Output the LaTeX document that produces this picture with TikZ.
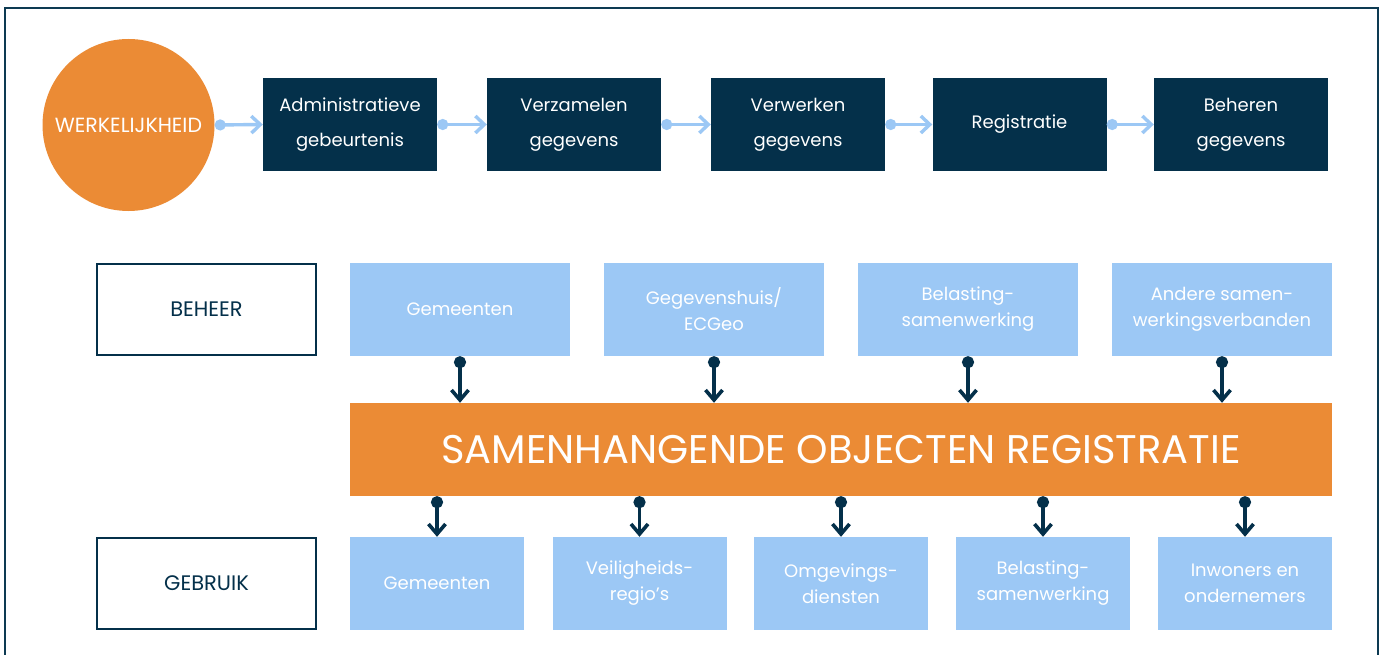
\documentclass[tikz,border=0pt]{standalone}
\usepackage{fontspec}
\setmainfont{Poppins}
\usetikzlibrary{arrows.meta}
\definecolor{navy}{HTML}{04304A}
\definecolor{frame}{HTML}{0D3A52}
\definecolor{orng}{HTML}{EB8B35}
\definecolor{lblue}{HTML}{9CC8F5}
\tikzset{
  dbox/.style={fill=navy, text=white, minimum width=174pt, minimum height=93pt, inner sep=0pt, align=center, font=\fontsize{18}{35}\selectfont},
  obox/.style={draw=navy, line width=2.2pt, fill=white, text=navy, minimum width=219pt, minimum height=91pt, inner sep=0pt, font=\fontsize{21}{24}\selectfont},
  bbox/.style={fill=lblue, text=white, minimum width=220pt, minimum height=93pt, inner sep=0pt, align=center, font=\fontsize{18}{26}\selectfont},
  gbox/.style={fill=lblue, text=white, minimum width=174pt, minimum height=93pt, inner sep=0pt, align=center, font=\fontsize{18}{26}\selectfont},
  flow/.style={draw=lblue, line width=3.4pt, {Circle[length=11pt,width=11pt]}-{Straight Barb[length=9pt,width=17pt,line width=3.4pt]}},
  down/.style={draw=navy, line width=3.6pt, {Circle[length=12pt,width=12pt]}-{Straight Barb[length=10pt,width=17pt,line width=3.6pt]}},
}
\begin{document}
\begin{tikzpicture}[x=1pt,y=-1pt]
\useasboundingbox (0,0) rectangle (1380,655);
\fill[white] (0,0) rectangle (1380,655);
\draw[frame, line width=2.5pt] (5,670) -- (5,8) -- (1378,8) -- (1378,670);
% top row
\node[circle, fill=orng, minimum size=172pt, inner sep=0pt, text=white, font=\fontsize{20.5}{24}\selectfont] (wk) at (128.5,125) {WERKELIJKHEID};
\node[dbox] (a1) at (350,124.5) {Administratieve\\gebeurtenis};
\node[dbox] (a2) at (574,124.5) {Verzamelen\\gegevens};
\node[dbox] (a3) at (798,124.5) {Verwerken\\gegevens};
\node[dbox] (a4) at (1019.5,124.5) {Registratie};
\node[dbox] (a5) at (1241,124.5) {Beheren\\gegevens};
\draw[flow] (wk.east) -- (a1.west);
\draw[flow] (a1.east) -- (a2.west);
\draw[flow] (a2.east) -- (a3.west);
\draw[flow] (a3.east) -- (a4.west);
\draw[flow] (a4.east) -- (a5.west);
% beheer row
\node[obox] (beh) at (206.5,309.5) {BEHEER};
\node[bbox] (b1) at (460,309.5) {Gemeenten};
\node[bbox] (b2) at (714,309.5) {Gegevenshuis/\\ECGeo};
\node[bbox] (b3) at (968,309.5) {Belasting-\\samenwerking};
\node[bbox] (b4) at (1222,309.5) {Andere samen-\\werkingsverbanden};
% bar
\node[fill=orng, text=white, minimum width=982pt, minimum height=93pt, inner sep=0pt, font=\fontsize{40}{44}\selectfont] (sor) at (841,449.5) {SAMENHANGENDE OBJECTEN REGISTRATIE};
\foreach \b in {b1,b2,b3,b4} \draw[down] (\b.south) -- (\b.south |- sor.north);
% gebruik row
\node[obox] (geb) at (206.5,583.5) {GEBRUIK};
\node[gbox] (g1) at (437,583.5) {Gemeenten};
\node[gbox] (g2) at (639.5,583.5) {Veiligheids-\\regio's};
\node[gbox] (g3) at (841,583.5) {Omgevings-\\diensten};
\node[gbox] (g4) at (1043,583.5) {Belasting-\\samenwerking};
\node[gbox] (g5) at (1245,583.5) {Inwoners en\\ondernemers};
\foreach \g in {g1,g2,g3,g4,g5} \draw[down] (\g.north |- sor.south) -- (\g.north);
\end{tikzpicture}
\end{document}
